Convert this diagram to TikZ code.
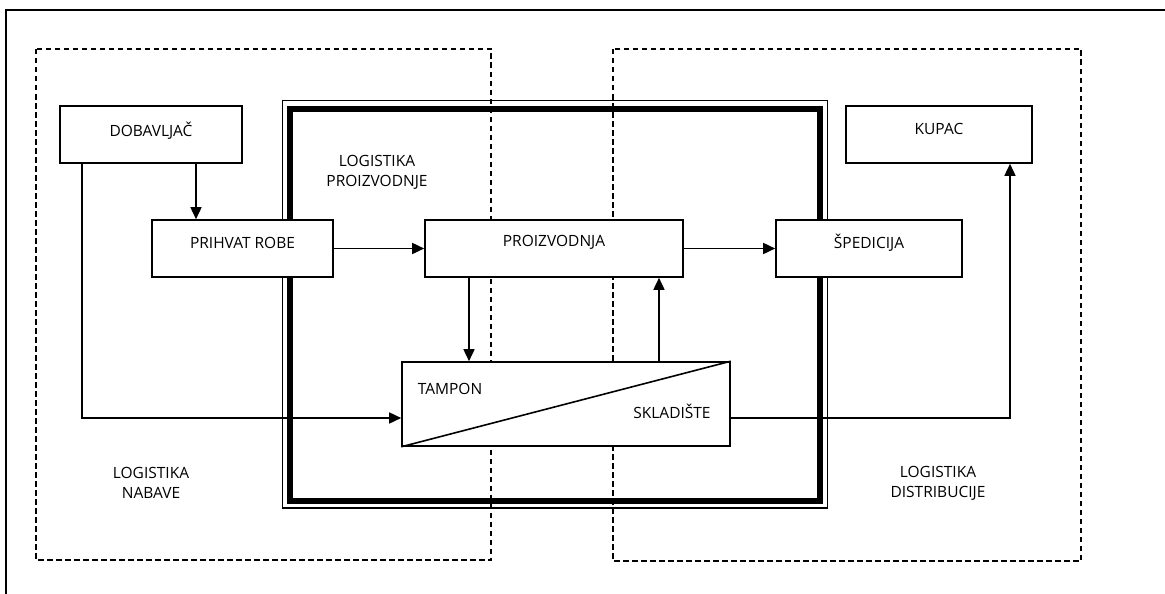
\documentclass[tikz,border=0pt]{standalone}
\usepackage{fontspec}
\setmainfont{Open Sans}
\usetikzlibrary{arrows.meta}
\begin{document}
\begin{tikzpicture}[x=1pt,y=-1pt,
  box/.style={draw, line width=1.6pt, inner sep=0pt},
  lbl/.style={font=\fontsize{15.5}{20}\selectfont, align=center, inner sep=0pt},
  arr/.style={line width=1.6pt, -{Triangle[length=12pt,width=11pt]}},
  ln/.style={line width=1.6pt},
  zone/.style={draw, line width=1.4pt, dash pattern=on 5.5pt off 3.5pt}]
\useasboundingbox (0,0) rectangle (1165,594);
% outer frame
\draw[line width=2pt] (6,600) -- (6,10) -- (1170,10);
% dashed zones
\draw[zone] (36,49) rectangle (491,560);
\draw[zone] (613,49) rectangle (1081,561);
% production frame
\draw[line width=1.4pt] (282.5,100.5) rectangle (827.5,508);
\draw[line width=6pt] (290,108.5) rectangle (820,501);
% boxes
\node[box, fill=white, minimum width=182pt, minimum height=57pt] (dob) at (151,134.5) {};
\node[box, fill=white, minimum width=181pt, minimum height=57pt] (prih) at (242.5,248.5) {};
\node[box, fill=white, minimum width=258pt, minimum height=57pt] (proiz) at (554,248.5) {};
\node[box, fill=white, minimum width=186pt, minimum height=57pt] (sped) at (869,248.5) {};
\node[box, fill=white, minimum width=186pt, minimum height=57pt] (kup) at (939,134.5) {};
\node[box, fill=white, minimum width=328pt, minimum height=84pt] (tamp) at (566,404) {};
\draw[ln] (tamp.south west) -- (tamp.north east);
% texts
\node[lbl] (tdob) at ([yshift=4pt]dob.center) {DOBAVLJAČ};
\node[lbl] (tprih) at ([yshift=6pt]prih.center) {PRIHVAT ROBE};
\node[lbl] (tproiz) at ([yshift=6pt]proiz.center) {PROIZVODNJA};
\node[lbl] (tsped) at ([yshift=6pt]sped.center) {ŠPEDICIJA};
\node[lbl] (tkup) at ([yshift=6pt]kup.center) {KUPAC};
\node[lbl] (ttam) at (450,389) {TAMPON};
\node[lbl] (tskl) at (672,411) {SKLADIŠTE};
\node[lbl] (lpro) at (377,172) {LOGISTIKA\\PROIZVODNJE};
\node[lbl] (lnab) at (151,483) {LOGISTIKA\\NABAVE};
\node[lbl] (ldis) at (938,483) {LOGISTIKA\\DISTRIBUCIJE};
% connectors
\draw[arr] ([xshift=-46.5pt]prih.north |- dob.south) -- ([xshift=-46.5pt]prih.north);
\draw[arr] ([xshift=-69pt]dob.south) |- ([yshift=-14pt]tamp.west);
\draw[arr] (prih) -- (proiz);
\draw[arr] (proiz) -- (sped);
\draw[arr] ([xshift=-85pt]proiz.south) -- ([xshift=-85pt]proiz.south |- tamp.north);
\draw[arr] ([xshift=105pt]proiz.south |- tamp.north) -- ([xshift=105pt]proiz.south);
\draw[arr] ([yshift=-14pt]tamp.east) -| ([xshift=71pt]kup.south);
\end{tikzpicture}
\end{document}
